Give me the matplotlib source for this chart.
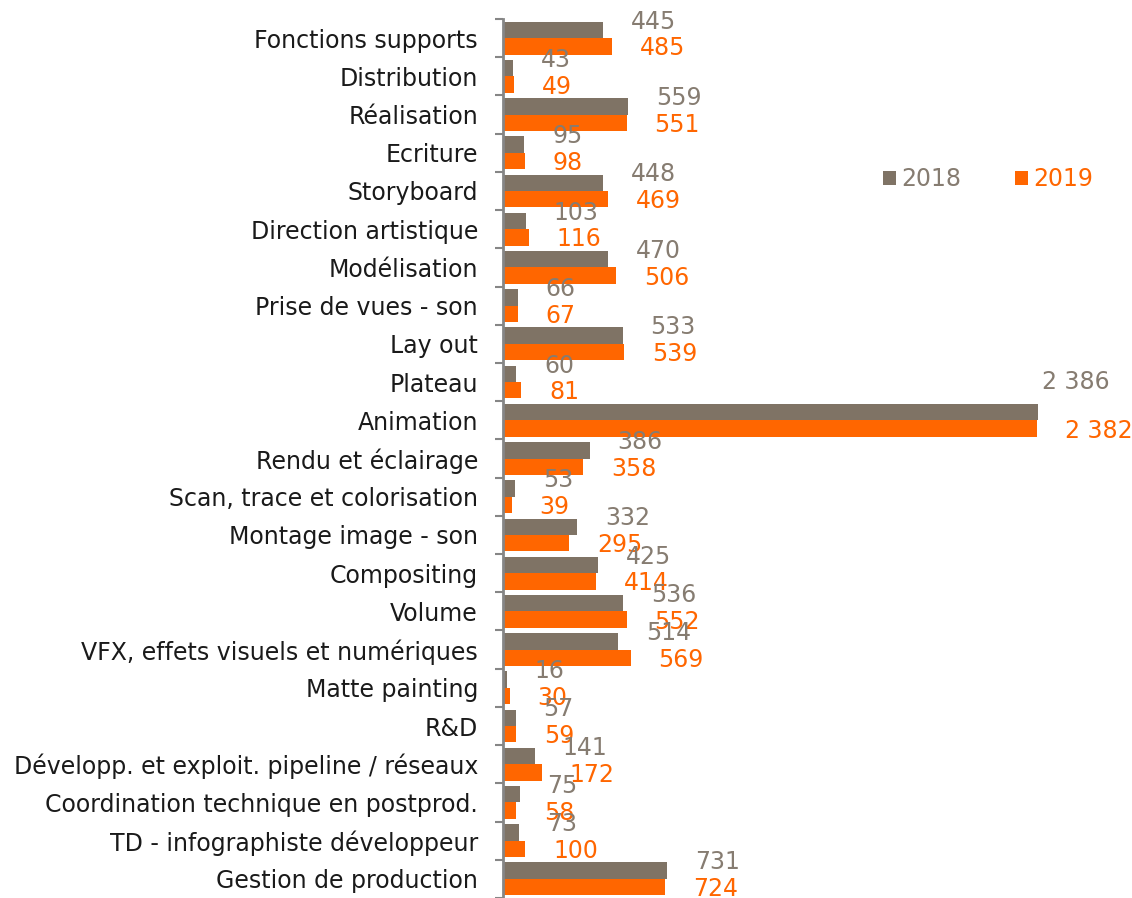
import matplotlib
matplotlib.use('Agg')
import matplotlib.pyplot as plt
import numpy as np

categories = [
    'Fonctions supports', 'Distribution', 'Réalisation', 'Ecriture', 'Storyboard',
    'Direction artistique', 'Modélisation', 'Prise de vues - son', 'Lay out', 'Plateau',
    'Animation', 'Rendu et éclairage', 'Scan, trace et colorisation', 'Montage image - son',
    'Compositing', 'Volume', 'VFX, effets visuels et numériques', 'Matte painting', 'R&D',
    'Développ. et exploit. pipeline / réseaux', 'Coordination technique en postprod.',
    'TD - infographiste développeur', 'Gestion de production',
]
v2018 = [445, 43, 559, 95, 448, 103, 470, 66, 533, 60, 2386, 386, 53, 332, 425, 536, 514,
         16, 57, 141, 75, 73, 731]
v2019 = [485, 49, 551, 98, 469, 116, 506, 67, 539, 81, 2382, 358, 39, 295, 414, 552, 569,
         30, 59, 172, 58, 100, 724]

GRAY = '#7f7365'
GRAY_TXT = '#867c71'
ORANGE = '#ff6600'


def fmt(v):
    return f'{v:,}'.replace(',', ' ')


def main():
    fig = plt.figure(figsize=(11.32, 8.98), dpi=100)
    ax = fig.add_axes([503 / 1132, 0.0, (1132 - 503) / 1132, 879 / 898])

    n = len(categories)
    y = np.arange(n)
    h = 0.43
    ax.barh(y - h / 2, v2018, height=h, color=GRAY, label='2018')
    ax.barh(y + h / 2, v2019, height=h, color=ORANGE, label='2019')

    ax.set_xlim(0, 2805)
    ax.set_ylim(n - 0.5, -0.5)

    ax.set_yticks(y)
    ax.set_yticklabels(categories, fontsize=17, color='#1a1a1a')
    ax.set_yticks(np.arange(n + 1) - 0.5, minor=True)
    ax.tick_params(axis='y', which='major', length=0, pad=18)
    ax.tick_params(axis='y', which='minor', length=6, width=1.5, color='#868686', direction='out')
    ax.set_xticks([])
    for s in ['top', 'right', 'bottom']:
        ax.spines[s].set_visible(False)
    ax.spines['left'].set_color('#868686')
    ax.spines['left'].set_linewidth(2)

    for i in range(n):
        a, b = v2018[i], v2019[i]
        if a > 2000:
            ax.annotate(fmt(a), (a, i - h / 2), xytext=(3, 22), textcoords='offset points',
                        ha='left', va='center', fontsize=17, color=GRAY_TXT, annotation_clip=False)
        else:
            ax.annotate(fmt(a), (a, i - h / 2), xytext=(20, 6), textcoords='offset points',
                        ha='left', va='center', fontsize=17, color=GRAY_TXT)
        ax.annotate(fmt(b), (b, i + h / 2), xytext=(20, -1.5), textcoords='offset points',
                    ha='left', va='center', fontsize=17, color=ORANGE, annotation_clip=False)

    leg = ax.legend(loc='upper left', bbox_to_anchor=(359 / 629, 1 - 127 / 879), ncol=2,
                    frameon=False, fontsize=17, handlelength=0.55, handleheight=0.55,
                    handletextpad=0.2, columnspacing=2.3)
    for t, c in zip(leg.get_texts(), [GRAY_TXT, ORANGE]):
        t.set_color(c)

    fig.savefig('out.png', dpi=100)


if __name__ == '__main__':
    main()
